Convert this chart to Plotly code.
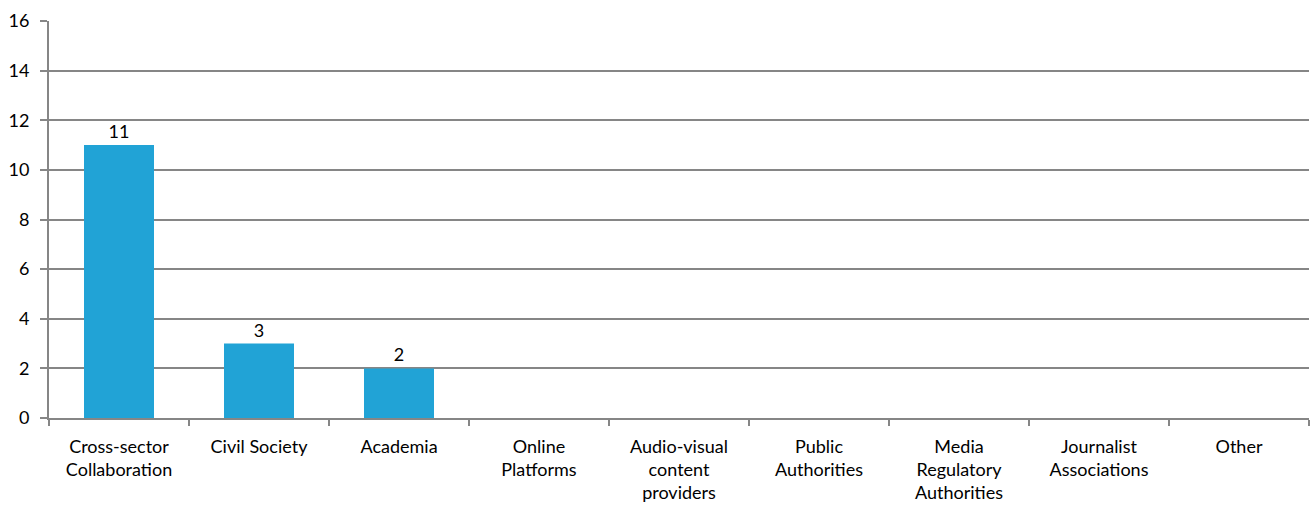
import plotly.graph_objects as go

categories = [
    "Cross-sector<br>Collaboration",
    "Civil Society",
    "Academia",
    "Online<br>Platforms",
    "Audio-visual<br>content<br>providers",
    "Public<br>Authorities",
    "Media<br>Regulatory<br>Authorities",
    "Journalist<br>Associations",
    "Other",
]
counts = [11, 3, 2, 0, 0, 0, 0, 0, 0]
labels = [str(v) if v else "" for v in counts]

grey = "#868686"
font = dict(family="Lato, Open Sans, sans-serif", size=18, color="#000000")

fig = go.Figure()
fig.add_trace(
    go.Bar(
        x=categories,
        y=counts,
        text=labels,
        textposition="outside",
        cliponaxis=False,
        textfont=font,
        marker=dict(color="#21A3D6", line=dict(width=0)),
        showlegend=False,
    )
)

fig.update_layout(
    width=1310,
    height=507,
    margin=dict(l=49, r=1, t=21, b=89),
    paper_bgcolor="white",
    plot_bgcolor="white",
    font=font,
    bargap=0.5,
)
fig.update_xaxes(
    showline=True,
    linecolor=grey,
    linewidth=2,
    ticks="outside",
    tickson="boundaries",
    ticklen=6,
    tickcolor=grey,
    tickwidth=2,
    showgrid=False,
    tickangle=0,
    ticklabelstandoff=11,
)
fig.update_yaxes(
    range=[0, 16],
    dtick=2,
    showline=True,
    linecolor=grey,
    linewidth=2,
    ticks="outside",
    ticklen=7,
    tickcolor=grey,
    tickwidth=2,
    showgrid=True,
    gridcolor=grey,
    gridwidth=2,
    zeroline=False,
    ticklabelstandoff=7,
)

# drop the default 8px page margin so the chart sits at the window corner
fig.write_html(
    "out.html",
    config={"displayModeBar": False},
    post_script="document.body.style.margin='0';",
)
